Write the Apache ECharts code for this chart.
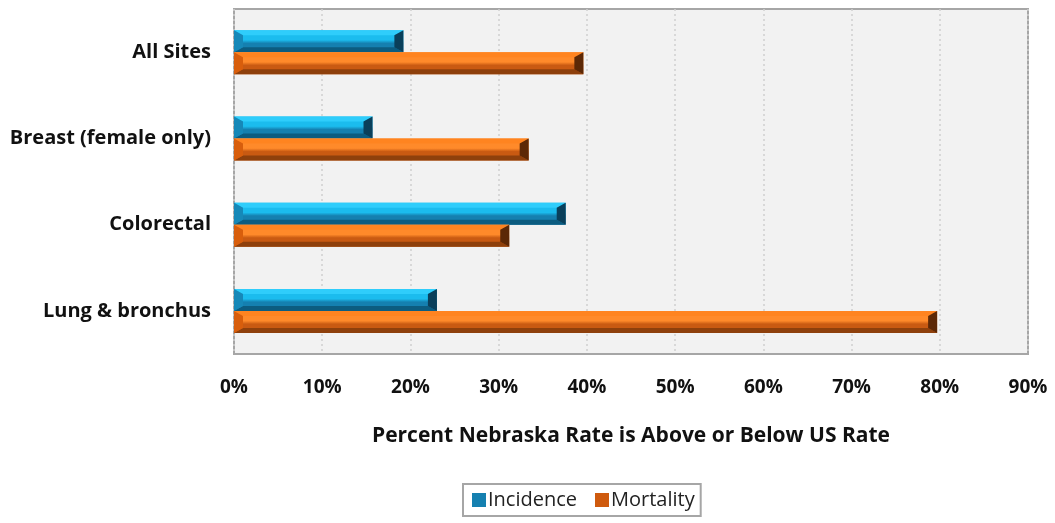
<!DOCTYPE html>
<html>
<head>
<meta charset="utf-8">
<script src="https://cdn.jsdelivr.net/npm/echarts@6/dist/echarts.min.js"></script>
<style>
  html, body { margin: 0; padding: 0; background: #fff; }
  #chart { width: 1055px; height: 523px; }
</style>
</head>
<body>
<div id="chart"></div>
<script>
// categories top to bottom
const categories = ['All Sites', 'Breast (female only)', 'Colorectal', 'Lung & bronchus']
const incidence = [19.2, 15.7, 37.6, 23.0]
const mortality = [39.6, 33.4, 31.2, 79.7]
const xTicks = [0, 10, 20, 30, 40, 50, 60, 70, 80, 90]

const blueBevel = {
  top: '#2fcdfb', bottom: '#0c5c80', left: '#1688b8', right: '#0a3f5a',
  faceTop: '#1bbcee', faceBottom: '#1580b0'
}
const orangeBevel = {
  top: '#ff8420', bottom: '#8e400c', left: '#d85e0c', right: '#5c2806',
  faceTop: '#ff8a2a', faceBottom: '#c95a12'
}

// beveled bar drawn from axis coordinates; side -1 = upper half of band, 1 = lower half
const bevelBar = (c, side) => (params, api) => {
  const cat = api.value(0)
  const val = api.value(1)
  const p0 = api.coord([0, cat])
  const p1 = api.coord([val, cat])
  const h = 22
  const x0 = p0[0], x1 = p1[0]
  const y0 = side < 0 ? p0[1] - h : p0[1]
  const y1 = y0 + h
  const bx = Math.min(9, (x1 - x0) / 2), by = 5
  const poly = (pts, fill) => ({ type: 'polygon', shape: { points: pts }, style: { fill: fill } })
  return {
    type: 'group',
    children: [
      {
        type: 'rect',
        shape: { x: x0, y: y0, width: x1 - x0, height: h },
        style: {
          fill: new echarts.graphic.LinearGradient(0, 0, 0, 1, [
            { offset: 0, color: c.faceTop },
            { offset: 0.45, color: c.faceTop },
            { offset: 0.6, color: c.faceBottom },
            { offset: 1, color: c.faceBottom }
          ])
        }
      },
      poly([[x0, y0], [x1, y0], [x1 - bx, y0 + by], [x0 + bx, y0 + by]], c.top),
      poly([[x0, y1], [x1, y1], [x1 - bx, y1 - by], [x0 + bx, y1 - by]], c.bottom),
      poly([[x0, y0], [x0 + bx, y0 + by], [x0 + bx, y1 - by], [x0, y1]], c.left),
      poly([[x1, y0], [x1 - bx, y0 + by], [x1 - bx, y1 - by], [x1, y1]], c.right)
    ]
  }
}

const myChart = echarts.init(document.getElementById('chart'))

const option = {
  animation: false,
  textStyle: { fontFamily: '"Open Sans", sans-serif' },
  grid: {
    left: 234, right: 27, top: 9, bottom: 169,
    show: true,
    backgroundColor: '#f2f2f2',
    borderColor: '#a6a6a6',
    borderWidth: 2
  },
  legend: {
    bottom: 7,
    left: 463,
    data: ['Incidence', 'Mortality'],
    icon: 'rect',
    itemWidth: 14,
    itemHeight: 14,
    itemGap: 18,
    padding: [6, 6, 6, 9],
    borderColor: '#a6a6a6',
    borderWidth: 2,
    textStyle: { fontSize: 20, color: '#222', padding: [0, 0, 0, -3] }
  },
  xAxis: {
    type: 'value',
    min: 0,
    max: 90,
    interval: 10,
    name: 'Percent Nebraska Rate is Above or Below US Rate',
    nameLocation: 'middle',
    nameGap: 72,
    nameTextStyle: { fontSize: 21, fontWeight: 'bold', color: '#111' },
    axisLine: { show: false },
    axisTick: { show: false },
    axisLabel: {
      margin: 24,
      fontSize: 19,
      fontWeight: 'bold',
      color: '#111',
      formatter: v => (xTicks.includes(v) ? v + '%' : '')
    },
    splitLine: { show: true, lineStyle: { color: '#d0d0d0', type: [2, 3], width: 1.5 } }
  },
  yAxis: {
    type: 'category',
    inverse: true,
    data: categories,
    axisLine: { show: false },
    axisTick: { show: false },
    axisLabel: { margin: 23, fontSize: 20, fontWeight: 'bold', color: '#111' }
  },
  series: [
    {
      name: 'Incidence',
      type: 'custom',
      renderItem: bevelBar(blueBevel, -1),
      encode: { x: 1, y: 0 },
      itemStyle: { color: '#1580b0' },
      data: incidence.map((v, i) => [i, v])
    },
    {
      name: 'Mortality',
      type: 'custom',
      renderItem: bevelBar(orangeBevel, 1),
      encode: { x: 1, y: 0 },
      itemStyle: { color: '#cf5a0e' },
      data: mortality.map((v, i) => [i, v])
    }
  ]
}
myChart.setOption(option)
</script>
</body>
</html>
